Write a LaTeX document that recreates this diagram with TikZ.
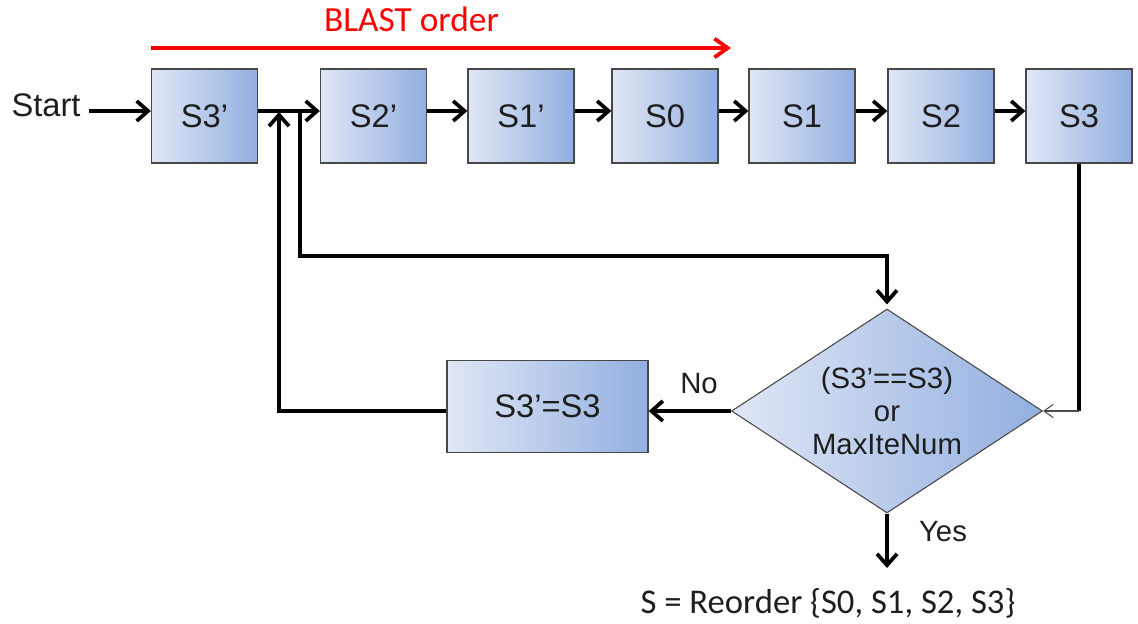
\documentclass[tikz,border=0pt]{standalone}
\usepackage{fontspec}
\setmainfont{Liberation Sans}
\newfontfamily\calibrifont{Carlito}
\usetikzlibrary{shapes.geometric,arrows.meta}
\definecolor{boxleft}{RGB}{224,231,245}
\definecolor{boxright}{RGB}{146,175,224}
\definecolor{edgegray}{RGB}{72,72,72}
\definecolor{blastred}{RGB}{255,0,0}
\definecolor{inktext}{RGB}{30,30,30}

\begin{document}
\begin{tikzpicture}[x=0.75pt,y=-0.75pt,
  stage/.style={draw=edgegray, line width=1pt, left color=boxleft, right color=boxright,
    minimum width=79.5pt, minimum height=70.5pt, inner sep=0pt, text=inktext,
    font=\fontsize{24.5}{29}\selectfont},
  decision/.style={diamond, aspect=1.5, draw=edgegray, line width=0.8pt, left color=boxleft, right color=boxright,
    minimum width=233.25pt, minimum height=153pt, inner sep=0pt, align=center, text=inktext,
    font=\fontsize{22}{24.75}\selectfont},
  flow/.style={line width=2.8pt, -{Straight Barb[length=8.5pt,width=15pt]}},
  plainflow/.style={line width=2.8pt},
  thinflow/.style={draw=black!70, line width=0.8pt, -{Straight Barb[length=7pt,width=10pt]}},
  blast/.style={draw=blastred, line width=2.8pt, -{Straight Barb[length=10pt,width=14pt]}},
  label/.style={text=inktext, font=\fontsize{22}{26}\selectfont, inner sep=0pt},
]
\useasboundingbox (0,0) rectangle (1138,624);

% forward chain of stages
\node[stage] (s3p) at (204.5,116) {S3’};
\node[stage] (s2p) at (373.5,116) {S2’};
\node[stage] (s1p) at (521,116) {S1’};
\node[stage] (s0)  at (665,116) {S0};
\node[stage] (s1)  at (802,116) {S1};
\node[stage] (s2)  at (941,116) {S2};
\node[stage] (s3)  at (1079,116) {S3};

% decision and update
\node[decision] (dec) at (887,411) {(S3’==S3)\\or\\MaxIteNum};
\node[stage, minimum width=150.75pt, minimum height=69pt] (fix) at (547.5,406.5) {S3’=S3};

% texts
\node[anchor=base, inner sep=0pt, text=inktext, font=\fontsize{24.5}{29}\selectfont] (start) at (46,117) {Start};
\node[anchor=base, inner sep=0pt, text=blastred, font=\calibrifont\fontsize{26.5}{30}\selectfont] (blasttext) at (411.5,32) {BLAST order};
\node[anchor=base, inner sep=0pt, text=inktext, font=\calibrifont\fontsize{26}{30}\selectfont] (result) at (828,613) {S = Reorder \{S0, S1, S2, S3\}};
\node[label] (no) at (699,384) {No};
\node[label] (yes) at (943,532) {Yes};

% helper points
\coordinate (row) at (0,111);
\coordinate (bl) at (151,48);
\coordinate (br) at (731,48);
\coordinate (j1) at (279,112);
\coordinate (j2) at (300,110);
\coordinate (bend) at (300,256);
\coordinate (down) at (887,568);

% BLAST order arrow
\draw[blast] (bl) -- (br);

% forward arrows
\draw[flow] ([xshift=6pt]start.east |- row) -- (s3p.west |- row);
\draw[flow] (s3p.east |- row) -- (s2p.west |- row);
\draw[flow] (s2p.east |- row) -- (s1p.west |- row);
\draw[flow] (s1p.east |- row) -- (s0.west |- row);
\draw[flow] (s0.east |- row) -- (s1.west |- row);
\draw[flow] (s1.east |- row) -- (s2.west |- row);
\draw[flow] (s2.east |- row) -- (s3.west |- row);

% S3 to the decision
\draw[plainflow] (s3.south) -- (s3.south |- dec.east);
\draw[thinflow] (s3.south |- dec.east) -- (dec.east);

% loop back into the chain
\draw[flow, shorten >=3pt] (j2) -- (bend) -| (dec.north);
\draw[flow] (dec.west) -- (fix.east |- dec.west);
\draw[flow] (fix.west |- dec.west) -| (j1);

% exit
\draw[flow] (dec.south) -- (down);
\end{tikzpicture}
\end{document}
